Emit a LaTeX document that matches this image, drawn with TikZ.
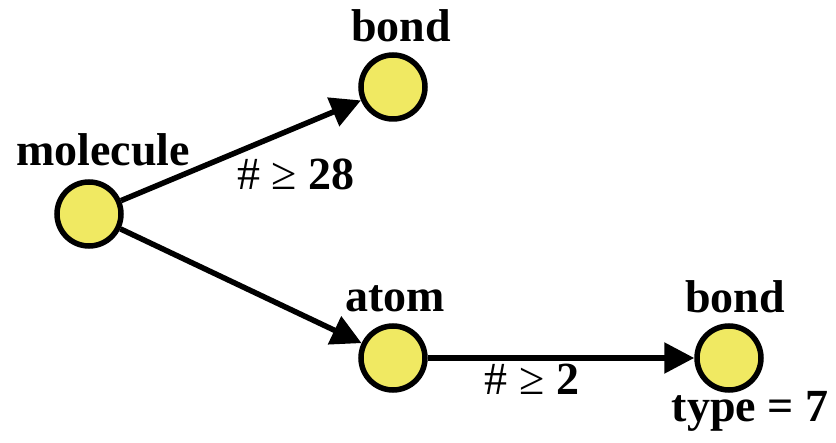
\documentclass[tikz,border=0pt]{standalone}
\usepackage{fontspec}
\setmainfont{Liberation Serif}
\usetikzlibrary{arrows.meta}
\definecolor{ballyellow}{RGB}{240,233,98}
\tikzset{
  ball/.style={circle, draw=black, fill=ballyellow, line width=5.5pt, minimum size=64pt, inner sep=0pt},
  lbl/.style={anchor=base, inner sep=0pt, font=\fontsize{46}{50}\selectfont\bfseries},
  conn/.style={line width=5.5pt, -{Triangle[length=30pt,width=30pt]}}
}
\begin{document}
\begin{tikzpicture}[x=1pt,y=-1pt]
\useasboundingbox (0,0) rectangle (836,443);
\node[ball] (mol) at (89,214) {};
\node[ball] (bond1) at (393,87) {};
\node[ball] (atom) at (393,358) {};
\node[ball] (bond2) at (729,358) {};
\node[lbl] (lmol) at (103,166) {molecule};
\node[lbl] (lbond1) at (401,42) {bond};
\node[lbl] (latom) at (395,312) {atom};
\node[lbl] (lbond2) at (735,313) {bond};
\node[lbl] (ltype) at (750,422) {type = 7};
\draw[conn] (mol) -- (bond1);
\draw[conn] (mol) -- (atom);
\draw[conn] (atom) -- (bond2);
\node[lbl] (l28) at (296,190) {\mdseries\# ≥ \bfseries 28};
\node[lbl] (l2) at (532,395) {\mdseries\# ≥ \bfseries 2};
\end{tikzpicture}
\end{document}
